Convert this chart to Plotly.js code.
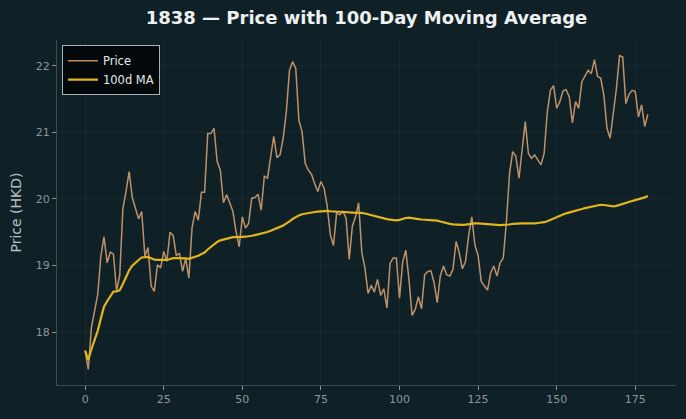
<!DOCTYPE html>
<html>
<head>
<meta charset="utf-8">
<script src="https://cdn.plot.ly/plotly-3.0.1.min.js"></script>
<style>
  html, body { margin: 0; padding: 0; background: #102027; }
  #chart { width: 686px; height: 419px; }
</style>
</head>
<body>
<div id="chart"></div>
<script>
// Daily closing prices for 1838 (HKD), trading days 0..179
const days = Array.from({length: 180}, (_, i) => i);
const price = [
  17.72, 17.44, 18.07, 18.30, 18.56, 19.14, 19.43, 19.04, 19.20, 19.17,
  18.62, 18.85, 19.85, 20.11, 20.41, 20.02, 19.84, 19.70, 19.81, 19.14,
  19.27, 18.69, 18.61, 19.01, 18.96, 19.21, 19.06, 19.50, 19.45, 19.15,
  19.18, 18.91, 19.11, 18.81, 19.56, 19.81, 19.68, 20.10, 20.10, 20.98,
  20.98, 21.06, 20.56, 20.43, 19.94, 20.06, 19.94, 19.81, 19.51, 19.28,
  19.73, 19.56, 19.63, 20.01, 20.02, 20.07, 19.83, 20.34, 20.31, 20.62,
  20.94, 20.62, 20.66, 20.91, 21.31, 21.93, 22.06, 21.96, 21.18, 21.01,
  20.53, 20.43, 20.37, 20.23, 20.11, 20.26, 20.16, 19.89, 19.46, 19.30,
  19.79, 19.76, 19.81, 19.71, 19.09, 19.59, 19.73, 19.94, 19.20, 18.96,
  18.58, 18.70, 18.60, 18.79, 18.55, 18.65, 18.36, 19.03, 19.11, 19.11,
  18.51, 19.05, 19.23, 18.79, 18.25, 18.34, 18.53, 18.35, 18.86, 18.91,
  18.92, 18.74, 18.44, 18.85, 18.99, 18.86, 18.84, 18.94, 19.36, 19.19,
  18.95, 19.06, 19.45, 19.73, 19.30, 19.15, 18.76, 18.69, 18.63, 18.89,
  18.99, 18.84, 19.04, 19.11, 19.65, 20.38, 20.71, 20.64, 20.31, 20.73,
  21.16, 20.68, 20.61, 20.66, 20.58, 20.51, 20.68, 21.30, 21.63, 21.70,
  21.36, 21.46, 21.62, 21.64, 21.53, 21.14, 21.46, 21.36, 21.76, 21.84,
  21.93, 21.88, 22.09, 21.84, 21.81, 21.56, 21.06, 20.91, 21.25, 21.66,
  22.15, 22.13, 21.43, 21.57, 21.63, 21.61, 21.23, 21.41, 21.09, 21.27
];
const maWindow = 100;
const xTicks = [0, 25, 50, 75, 100, 125, 150, 175];
const yTicks = [18, 19, 20, 21, 22];

// Trailing moving average; the first days average whatever history exists
function rollingMean(values, win) {
  const out = [];
  let sum = 0;
  for (let i = 0; i < values.length; i++) {
    sum += values[i];
    if (i >= win) sum -= values[i - win];
    out.push(sum / Math.min(i + 1, win));
  }
  return out;
}
const movingAvg = rollingMean(price, maWindow);

// Pad the axes by 5% of the data span on each side
function padded(lo, hi, frac) {
  const d = (hi - lo) * frac;
  return [lo - d, hi + d];
}
const xRange = padded(Math.min(...days), Math.max(...days), 0.05);
const yRange = padded(Math.min(...price, ...movingAvg), Math.max(...price, ...movingAvg), 0.05);

const traces = [
  {
    x: days, y: price, type: 'scatter', mode: 'lines', name: 'Price',
    line: {color: 'rgba(206,158,114,0.9)', width: 1.5}
  },
  {
    x: days, y: movingAvg, type: 'scatter', mode: 'lines', name: maWindow + 'd MA',
    line: {color: '#e1b51e', width: 2.2}
  }
];

const axisCommon = {
  showline: true, linecolor: '#3d4a50', linewidth: 1,
  ticks: 'outside', ticklen: 4, tickcolor: '#8a9498', tickwidth: 1,
  tickfont: {family: 'DejaVu Sans', size: 11, color: '#8d979b'},
  showgrid: true, gridcolor: 'rgba(255,255,255,0.045)', gridwidth: 1,
  zeroline: false, mirror: false
};

const layout = {
  width: 686, height: 419,
  paper_bgcolor: '#102027', plot_bgcolor: '#102027',
  margin: {l: 57, r: 10, t: 40, b: 34},
  font: {family: 'DejaVu Sans', color: '#c9d0d3'},
  title: {
    text: '<b>1838 — Price with 100-Day Moving Average</b>',
    font: {family: 'DejaVu Sans', size: 18, color: '#eef1f2'},
    x: 0.5, xref: 'paper', xanchor: 'center',
    y: 0.957, yref: 'container', yanchor: 'middle'
  },
  xaxis: Object.assign({}, axisCommon, {
    range: xRange, tickvals: xTicks, ticktext: xTicks.map(String)
  }),
  yaxis: Object.assign({}, axisCommon, {
    range: yRange, tickvals: yTicks, ticktext: yTicks.map(String),
    title: {text: 'Price (HKD)', font: {family: 'DejaVu Sans', size: 14, color: '#b8c0c4'}, standoff: 10}
  }),
  legend: {
    x: 0.008, y: 0.985, xanchor: 'left', yanchor: 'top',
    bgcolor: 'rgba(2,6,8,0.92)', bordercolor: '#a9b0b3', borderwidth: 1,
    font: {family: 'DejaVu Sans', size: 11.5, color: '#e4e8ea'},
    itemwidth: 30, tracegroupgap: 0
  },
  showlegend: true
};

Plotly.newPlot('chart', traces, layout, {staticPlot: true, displayModeBar: false});
</script>
</body>
</html>
